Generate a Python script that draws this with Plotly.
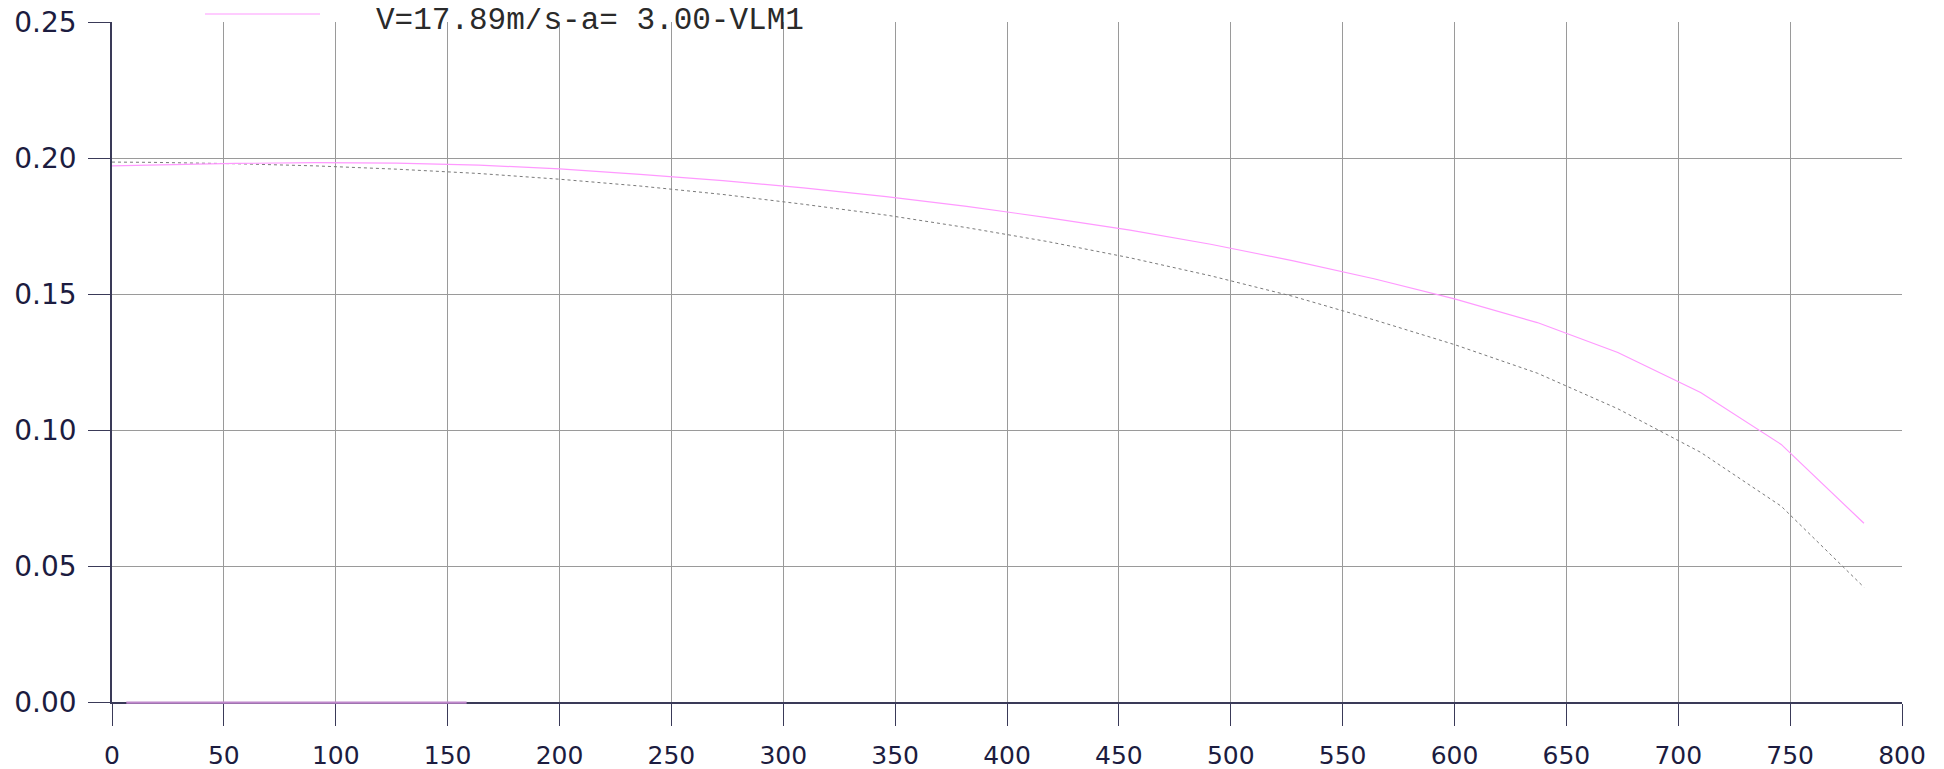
import plotly.graph_objects as go

# Spanwise stations and coefficient values
x_nodes = [0, 18, 55, 91, 127, 164, 200, 236, 273, 309, 346, 382, 418, 455,
           491, 528, 564, 600, 637, 673, 710, 746, 783]
pink_vals = [0.1971, 0.1974, 0.1980, 0.1983, 0.1981, 0.1974, 0.1960, 0.1940,
             0.1917, 0.1890, 0.1858, 0.1822, 0.1781, 0.1735, 0.1683, 0.1622,
             0.1556, 0.1482, 0.1395, 0.1285, 0.1138, 0.0947, 0.0657]
gray_vals = [0.1985, 0.1984, 0.1979, 0.1971, 0.1959, 0.1943, 0.1922, 0.1897,
             0.1866, 0.1830, 0.1790, 0.1744, 0.1693, 0.1633, 0.1567, 0.1491,
             0.1405, 0.1314, 0.1209, 0.1078, 0.0918, 0.0720, 0.0422]
base_x = [6.4, 158.5]
base_y = [0.0, 0.0]

x_ticks = [0, 50, 100, 150, 200, 250, 300, 350, 400, 450, 500, 550, 600, 650, 700, 750, 800]
y_ticks = [0.00, 0.05, 0.10, 0.15, 0.20, 0.25]
legend_label = "V=17.89m/s-a= 3.00-VLM1"
y_range = [0, 0.25]

navy = "#1c1c40"
axis_col = "#3a3a58"
grid_col = "#9a9a9a"

# page body adds an 8px offset; compensate in size/margins
W, H = 1936, 761
L, R, T, B = 104, 42, 14, 67
PW = W - L - R
PH = H - T - B

fig = go.Figure()
fig.add_trace(go.Scatter(x=x_nodes, y=gray_vals, mode="lines",
                         line=dict(color="#7a7a7a", width=1, dash="dot"),
                         showlegend=False))
fig.add_trace(go.Scatter(x=x_nodes, y=pink_vals, mode="lines",
                         line=dict(color="#ff99ff", width=1.2),
                         showlegend=False, name=legend_label))

# pink segment lying on the x axis (drawn over the axis line)
base_paper = (base_y[0] - y_range[0]) / (y_range[1] - y_range[0]) - 0.7 / PH
fig.add_shape(type="line", xref="x", yref="paper", layer="above",
              x0=base_x[0], x1=base_x[1], y0=base_paper, y1=base_paper,
              line=dict(color="#c088cc", width=2.2))

# manual legend sample + label
fig.add_shape(type="line", xref="paper", yref="paper",
              x0=(205 - 112) / PW, x1=(320 - 112) / PW,
              y0=1 + (22 - 14) / PH, y1=1 + (22 - 14) / PH,
              line=dict(color="#ff99ff", width=1.2))
fig.add_annotation(text=legend_label, xref="paper", yref="paper",
                   x=(374 - 112) / PW, y=1 + (14 - 12.5) / PH,
                   xanchor="left", yanchor="middle", showarrow=False,
                   font=dict(family="Liberation Mono", size=31, color="#2a2a2a"))

fig.update_layout(
    width=W, height=H,
    margin=dict(l=L, r=R, t=T, b=B, autoexpand=False),
    paper_bgcolor="white", plot_bgcolor="white",
)
fig.update_xaxes(range=[0, 800], tickvals=x_ticks, ticktext=[str(v) for v in x_ticks],
                 showgrid=True, gridcolor=grid_col, gridwidth=1,
                 showline=True, linecolor=axis_col, linewidth=1.5,
                 ticks="outside", ticklen=22, tickcolor=axis_col, tickwidth=1.2,
                 zeroline=False, ticklabelstandoff=8,
                 ticklabeloverflow="allow",
                 tickfont=dict(family="DejaVu Sans", size=25, color=navy))
fig.update_yaxes(range=y_range, tickvals=y_ticks, ticktext=[f"{v:.2f}" for v in y_ticks],
                 showgrid=True, gridcolor=grid_col, gridwidth=1,
                 showline=True, linecolor=axis_col, linewidth=1.5,
                 ticks="outside", ticklen=22, tickcolor=axis_col, tickwidth=1.2,
                 zeroline=False, ticklabelstandoff=6, ticklabeloverflow="allow",
                 tickfont=dict(family="DejaVu Sans", size=28, color=navy))

fig.write_html("out.html")
